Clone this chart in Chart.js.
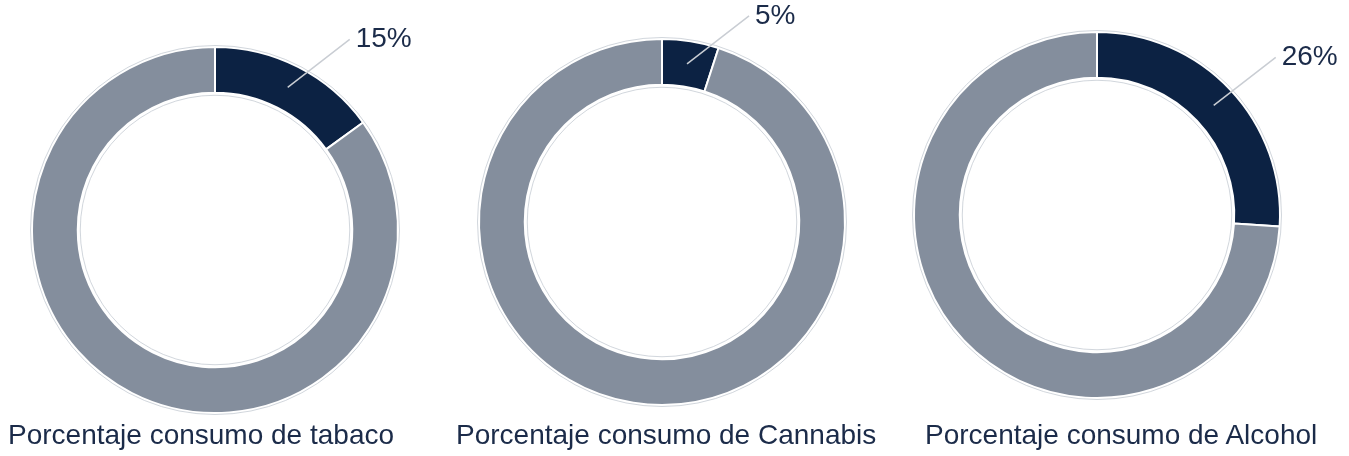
<!DOCTYPE html>
<html>
<head>
<meta charset="utf-8">
<script src="https://cdn.jsdelivr.net/npm/chart.js@4"></script>
<style>
  body { margin: 0; background: #fff; }
  .wrap { position: relative; width: 1349px; height: 456px; overflow: hidden; }
  .box { position: absolute; top: 0; width: 449px; height: 420px; }
  .cap { position: absolute; top: 421px; font: 28px "Liberation Sans", Arial, sans-serif; line-height: 28px; color: #1b2b49; white-space: nowrap; }
</style>
</head>
<body>
<div class="wrap">
  <div class="box" style="left:0px"><canvas id="c0"></canvas></div>
  <div class="box" style="left:449px"><canvas id="c1"></canvas></div>
  <div class="box" style="left:898px"><canvas id="c2"></canvas></div>
  <div class="cap" id="t0" style="left:8px"></div>
  <div class="cap" id="t1" style="left:456px"></div>
  <div class="cap" id="t2" style="left:925px"></div>
</div>
<script>
// datos
const titles = ['Porcentaje consumo de tabaco', 'Porcentaje consumo de Cannabis', 'Porcentaje consumo de Alcohol']
const consumo = [15, 5, 26]
const total = 100

const navy = '#0c2243'
const gray = '#848e9d'

// padding so every ring lands where it is in the picture
const pads = [
  { left: 31, right: 50, top: 46, bottom: 6 },
  { left: 29, right: 52, top: 38, bottom: 14 },
  { left: 15, right: 66, top: 31, bottom: 21 }
]

// leader line + percent label for the first slice, plus the faint ring outline
const leader = {
  id: 'leader',
  afterDatasetsDraw(chart) {
    const ctx = chart.ctx
    const arc = chart.getDatasetMeta(0).data[0]
    const p = arc.getProps(['x', 'y', 'startAngle', 'endAngle', 'innerRadius', 'outerRadius'], true)

    ctx.save()
    ctx.strokeStyle = 'rgba(190,196,205,0.7)'
    ctx.lineWidth = 1
    ctx.beginPath()
    ctx.arc(p.x, p.y, p.outerRadius + 1.5, 0, Math.PI * 2)
    ctx.stroke()
    ctx.beginPath()
    ctx.arc(p.x, p.y, p.innerRadius - 2.5, 0, Math.PI * 2)
    ctx.stroke()

    const mid = (p.startAngle + p.endAngle) / 2
    const r = (p.innerRadius + p.outerRadius) / 2
    const sx = p.x + Math.cos(mid) * r
    const sy = p.y + Math.sin(mid) * r
    const ex = sx + 62
    const ey = sy - 48
    ctx.strokeStyle = '#c9cdd3'
    ctx.lineWidth = 1.5
    ctx.beginPath()
    ctx.moveTo(sx, sy)
    ctx.lineTo(ex, ey)
    ctx.stroke()

    const v = chart.data.datasets[0].data[0]
    ctx.fillStyle = '#1b2b49'
    ctx.font = '28px "Liberation Sans", Arial, sans-serif'
    ctx.textAlign = 'left'
    ctx.textBaseline = 'middle'
    ctx.fillText(v + '%', ex + 6, ey)
    ctx.restore()
  }
}

consumo.forEach((v, i) => {
  document.getElementById('t' + i).textContent = titles[i]
  new Chart(document.getElementById('c' + i), {
    type: 'doughnut',
    data: {
      labels: ['Consume', 'No consume'],
      datasets: [{
        data: [v, total - v],
        backgroundColor: [navy, gray],
        borderColor: '#ffffff',
        borderWidth: 2,
        hoverOffset: 0,
        hoverBorderWidth: 2
      }]
    },
    options: {
      responsive: true,
      maintainAspectRatio: false,
      animation: false,
      cutout: '75%',
      layout: { padding: pads[i] },
      plugins: {
        legend: { display: false },
        tooltip: { enabled: false }
      },
      events: []
    },
    plugins: [leader]
  })
})
</script>
</body>
</html>
